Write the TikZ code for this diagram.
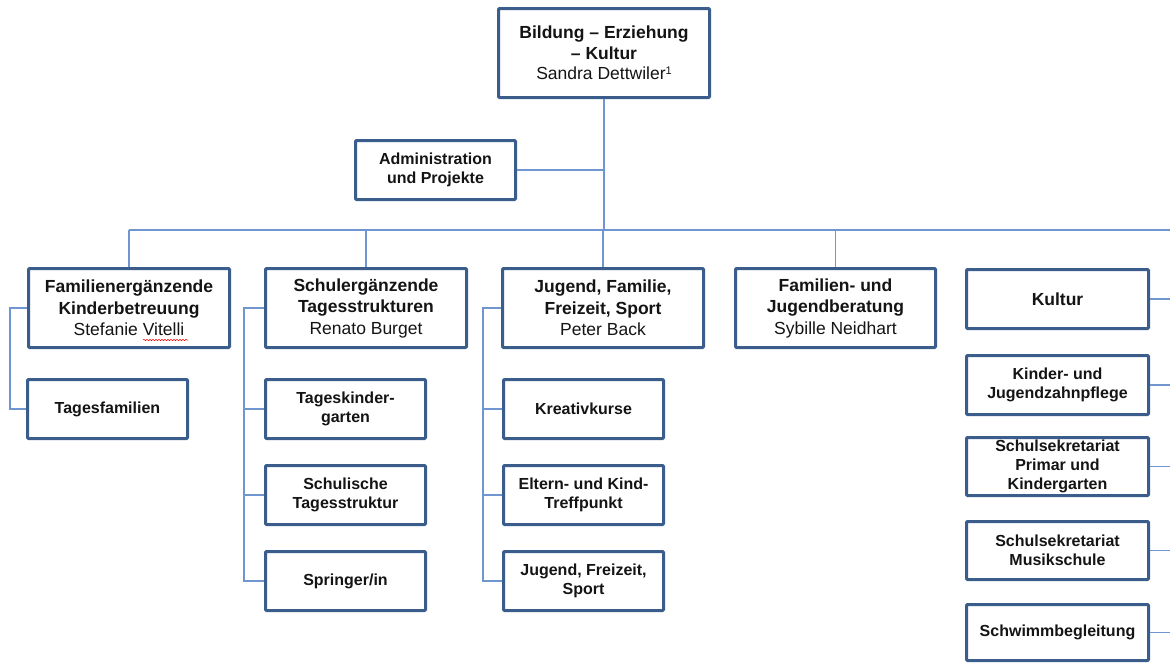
\documentclass[tikz,border=0pt]{standalone}
\usepackage{fontspec}
\setmainfont{Liberation Sans}
\usetikzlibrary{decorations.pathmorphing}

\definecolor{boxline}{HTML}{3A5D8C}
\definecolor{linkline}{HTML}{6F96CE}
\definecolor{txt}{HTML}{141414}

% \orgbox{name}{x1}{y1}{x2}{y2}{style}{text}: box given by its outer edges
\newcommand\orgbox[7]{%
  \node[#6, minimum width={#4-#2-3}, minimum height={#5-#3-3}]
    (#1) at ({(#2+#4)/2},{(#3+#5)/2}) {#7};}

\tikzset{
  unit/.style={draw=boxline, line width=3pt, fill=white, inner sep=0pt,
    align=center, text=txt, rounded corners=1pt},
  headbox/.style={unit, font=\fontsize{17.5}{20.5}\selectfont},
  leadbox/.style={unit, font=\fontsize{17.5}{21.5}\selectfont},
  subbox/.style={unit, font=\bfseries\fontsize{16}{18.8}\selectfont},
  conn/.style={draw=linkline, line width=1.6pt},
}

\begin{document}
\begin{tikzpicture}[x=1pt, y=-1pt]
\useasboundingbox (0,0) rectangle (1170,664);

% management
\orgbox{top}{497}{7}{711}{99}{headbox}{\textbf{Bildung – Erziehung}\\\textbf{– Kultur}\\Sandra Dettwiler{\fontsize{11}{11}\selectfont\raisebox{5pt}{1}}}
\orgbox{adm}{354}{139}{517}{201}{subbox}{Administration\\und Projekte}

% departments
\orgbox{f1}{27}{267}{231}{349}{leadbox}{\textbf{Familienergänzende}\\\textbf{Kinderbetreuung}\\Stefanie Vitelli}
\orgbox{f2}{264}{267}{468}{349}{leadbox}{\textbf{Schulergänzende}\\\textbf{Tagesstrukturen}\\Renato Burget}
\orgbox{f3}{501}{267}{705}{349}{leadbox}{\textbf{Jugend, Familie,}\\\textbf{Freizeit, Sport}\\Peter Back}
\orgbox{f4}{734}{267}{937}{349}{leadbox}{\textbf{Familien- und}\\\textbf{Jugendberatung}\\Sybille Neidhart}

% sections
\orgbox{s11}{26}{378}{189}{440}{subbox}{Tagesfamilien}
\orgbox{s21}{264}{378}{427}{440}{subbox}{Tageskinder-\\garten}
\orgbox{s22}{264}{464}{427}{526}{subbox}{Schulische\\Tagesstruktur}
\orgbox{s23}{264}{550}{427}{612}{subbox}{Springer/in}
\orgbox{s31}{502}{378}{665}{440}{subbox}{Kreativkurse}
\orgbox{s32}{502}{464}{665}{526}{subbox}{Eltern- und Kind-\\Treffpunkt}
\orgbox{s33}{502}{550}{665}{612}{subbox}{Jugend, Freizeit,\\Sport}

% right-hand column
\orgbox{r1}{965}{268}{1150}{330}{subbox}{\fontsize{17.5}{20}\selectfont Kultur}
\orgbox{r2}{965}{354}{1150}{416}{subbox}{Kinder- und\\Jugendzahnpflege}
\orgbox{r3}{965}{436}{1150}{497}{subbox}{Schulsekretariat\\Primar und\\Kindergarten}
\orgbox{r4}{965}{520}{1150}{581}{subbox}{Schulsekretariat\\Musikschule}
\orgbox{r5}{965}{603}{1150}{662}{subbox}{Schwimmbegleitung}

% spelling mark under the surname
\draw[red, line width=0.5pt, decorate,
  decoration={snake, segment length=3pt, amplitude=0.7pt}] (143,340) -- (188,340);

% bus and rails
\coordinate (bus) at (603,230);
\coordinate (busend) at (1170,230);
\coordinate (rail1) at (10,308);
\coordinate (rail2) at (244,308);
\coordinate (rail3) at (483,308);

\draw[conn] (top.south) -- (top.south |- bus);
\draw[conn] (adm.east) -- (adm.east -| top.south);
\draw[conn] (f1.north |- bus) -- (busend);
\foreach \d in {f1,f2,f3,f4} \draw[conn] (\d.north |- bus) -- (\d.north);

\draw[conn] (f1.west) -- (rail1) |- (s11.west);

\draw[conn] (f2.west) -- (rail2) |- (s23.west);
\draw[conn] (s21.west -| rail2) -- (s21.west);
\draw[conn] (s22.west -| rail2) -- (s22.west);

\draw[conn] (f3.west) -- (rail3) |- (s33.west);
\draw[conn] (s31.west -| rail3) -- (s31.west);
\draw[conn] (s32.west -| rail3) -- (s32.west);

\foreach \r in {r1,r2,r3,r4,r5} \draw[conn] (\r.east) -- (\r.east -| busend);
\end{tikzpicture}
\end{document}
